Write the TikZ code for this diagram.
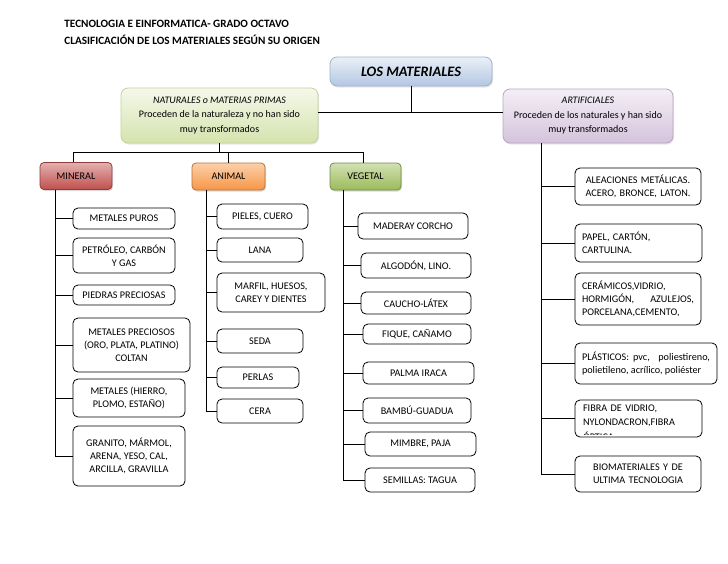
\documentclass[tikz,border=0pt]{standalone}
\usepackage{fontspec}
\setmainfont{Carlito}
\usetikzlibrary{shadows}
\definecolor{minred}{HTML}{C0504D}
\definecolor{aniorange}{HTML}{F79646}
\definecolor{vegreen}{HTML}{9BBB59}
\definecolor{mattop}{HTML}{EAF0F8}
\definecolor{matbot}{HTML}{B3C7E2}
\definecolor{mateline}{HTML}{9FB3CE}
\definecolor{nattop}{HTML}{F5F8EA}
\definecolor{natbot}{HTML}{D5E3AE}
\definecolor{natline}{HTML}{C3D39A}
\definecolor{arttop}{HTML}{F4EFF6}
\definecolor{artbot}{HTML}{D4C3DB}
\definecolor{artline}{HTML}{B8A6C0}
\newcommand\txtsize{\fontsize{10.2}{13}\selectfont}
\tikzset{
  item/.style={draw, rounded corners=5pt, fill=white, inner sep=1pt, align=center, font=\txtsize},
  group/.style={draw=#1!75!black, rounded corners=4pt, top color=#1!45!white, bottom color=#1,
    drop shadow={shadow xshift=1pt, shadow yshift=-1.5pt, opacity=.3}, font=\txtsize,
    minimum height=27pt, inner sep=0pt},
  headbox/.style={rounded corners=7pt, inner sep=0pt, align=center,
    drop shadow={shadow xshift=1pt, shadow yshift=-1.5pt, opacity=.2}}
}
\begin{document}
\begin{tikzpicture}[x=1pt, y=-1pt, line width=.8pt]
\useasboundingbox (0,0) rectangle (728,563);
% titulo
\node[anchor=west, inner sep=0pt, font=\fontsize{11.2}{13}\bfseries] (tit1) at (64,24) {TECNOLOGIA E EINFORMATICA- GRADO OCTAVO};
\node[anchor=west, inner sep=0pt, font=\fontsize{11.2}{13}\bfseries] (tit2) at (64,40) {CLASIFICACIÓN DE LOS MATERIALES SEGÚN SU ORIGEN};
% cajas principales
\node[headbox, draw=mateline, top color=mattop, bottom color=matbot,
  minimum width=162pt, minimum height=29pt, font=\fontsize{14.4}{16}\bfseries\itshape] (mat) at (411,71.5) {LOS MATERIALES};
\node[headbox, draw=natline, top color=nattop, bottom color=natbot,
  minimum width=197pt, minimum height=55pt, font=\fontsize{10}{14.5}\selectfont] (nat) at (219.5,115.5)
  {\textit{NATURALES o MATERIAS PRIMAS}\\Proceden de la naturaleza y no han sido\\muy transformados};
\node[headbox, draw=artline, top color=arttop, bottom color=artbot,
  minimum width=170pt, minimum height=54pt, font=\fontsize{10}{14.5}\selectfont] (art) at (588,116)
  {\textit{ARTIFICIALES}\\Proceden de los naturales y han sido\\muy transformados};
\coordinate (hub) at (411,112);
\draw (mat.south) -- (hub);
\draw (nat.east |- hub) -- (art.west |- hub);
% grupos naturales
\node[group=minred, minimum width=72pt] (mineral) at (76,176) {MINERAL};
\node[group=aniorange, minimum width=73pt] (animal) at (228.5,176.5) {ANIMAL};
\node[group=vegreen, minimum width=71pt] (vegetal) at (365.5,176.5) {VEGETAL};
\coordinate (nbus) at (228,152);
\draw (nat.south) -- (nat.south |- nbus);
\draw ([xshift=-3pt]mineral.north) -- ([xshift=-3pt]mineral.north |- nbus) -- ([xshift=-2.5pt]vegetal.north |- nbus) -- ([xshift=-2.5pt]vegetal.north);
\draw (animal.north) -- (animal.north |- nbus);
% troncos
\coordinate (mtr) at (55,0);
\coordinate (atr) at (206,0);
\coordinate (vtr) at (343,0);
\coordinate (rtr) at (541,0);
% mineral
\foreach \n/\yt/\xr/\yb/\txt in {m1/208/175/229/{METALES PUROS}, m2/238/175/273/{PETRÓLEO, CARBÓN\\Y GAS},
  m3/285/175/305/{PIEDRAS PRECIOSAS}, m4/318/190/372/{METALES PRECIOSOS\\(ORO, PLATA, PLATINO)\\COLTAN},
  m5/379/185/417/{METALES (HIERRO,\\PLOMO, ESTAÑO)}, m6/426/185/486/{GRANITO, MÁRMOL,\\ARENA, YESO, CAL,\\ARCILLA, GRAVILLA}}
{
  \node[item, minimum width={\xr-73}, minimum height={\yb-\yt}] (\n) at ({(73+\xr)/2},{(\yt+\yb)/2}) {\txt};
  \draw (\n.west) -- (\n.west -| mtr);
}
\draw (mineral.south -| mtr) -- (m6.west -| mtr);
% animal
\foreach \n/\yt/\xr/\yb/\txt in {a1/204/308/229/{PIELES, CUERO}, a2/238/303/262/{LANA},
  a3/273/325/312/{MARFIL, HUESOS,\\CAREY Y DIENTES}, a4/329/303/353/{SEDA}, a5/367/299/388/{PERLAS}, a6/399/303/423/{CERA}}
{
  \node[item, minimum width={\xr-217}, minimum height={\yb-\yt}] (\n) at ({(217+\xr)/2},{(\yt+\yb)/2}) {\txt};
  \draw (\n.west) -- (\n.west -| atr);
}
\draw (animal.south -| atr) -- (a6.west -| atr);
% vegetal
\foreach \n/\xl/\yt/\xr/\yb/\txt in {v1/358/213/468/239/{MADERAY CORCHO}, v2/361/253/471/278/{ALGODÓN, LINO.},
  v3/361/292/471/314/{CAUCHO-LÁTEX}, v4/363/324/471/344/{FIQUE, CAÑAMO}, v5/363/362/474/384/{PALMA IRACA},
  v6/363/398/471/423/{BAMBÚ-GUADUA}, v7/365/432/476/456/{MIMBRE, PAJA}, v8/365/468/475/492/{SEMILLAS: TAGUA}}
{
  \node[item, minimum width={\xr-\xl}, minimum height={\yb-\yt}] (\n) at ({(\xl+\xr)/2},{(\yt+\yb)/2}) {\txt};
  \draw (\n.west) -- (\n.west -| vtr);
}
\draw (vegetal.south -| vtr) -- (v8.west -| vtr);
% artificiales
\foreach \n/\yt/\xr/\yb/\al/\txt in {r1/168/701/205/center/{ALEACIONES METÁLICAS.\\ACERO, BRONCE, LATON.},
  r2/224/702/262/left/{PAPEL, CARTÓN,\\CARTULINA.},
  r3/273/701/325/justify/{CERÁMICOS,VIDRIO,\\HORMIGÓN, \ AZULEJOS,\linebreak PORCELANA,CEMENTO,},
  r4/343/717/384/justify/{PLÁSTICOS: pvc, \ poliestireno,\linebreak polietileno, acrílico, poliéster},
  r6/456/701/492/center/{BIOMATERIALES Y DE\\ULTIMA TECNOLOGIA}}
{
  \node[item, align=\al, inner xsep=7pt, text width={\xr-575-14}, minimum height={\yb-\yt}] (\n) at ({(575+\xr)/2},{(\yt+\yb)/2}) {\txt};
  \draw (\n.west) -- (\n.west -| rtr);
}
\node[item, minimum width=127pt, minimum height=37pt] (r5) at (638.5,418.5) {};
\begin{scope}
  \clip ([yshift=3pt]r5.south west) rectangle (r5.north east);
  \node[anchor=north west, inner sep=0pt, text width=115pt, align=left, font=\fontsize{10.2}{14.5}\selectfont] (r5txt) at ([xshift=8pt,yshift=-4.5pt]r5.north west)
    {FIBRA DE VIDRIO,\\NYLONDACRON,FIBRA\\ÓPTICA};
\end{scope}
\draw (r5.west) -- (r5.west -| rtr);
\draw (art.south -| rtr) -- (r6.west -| rtr);
\end{tikzpicture}
\end{document}
